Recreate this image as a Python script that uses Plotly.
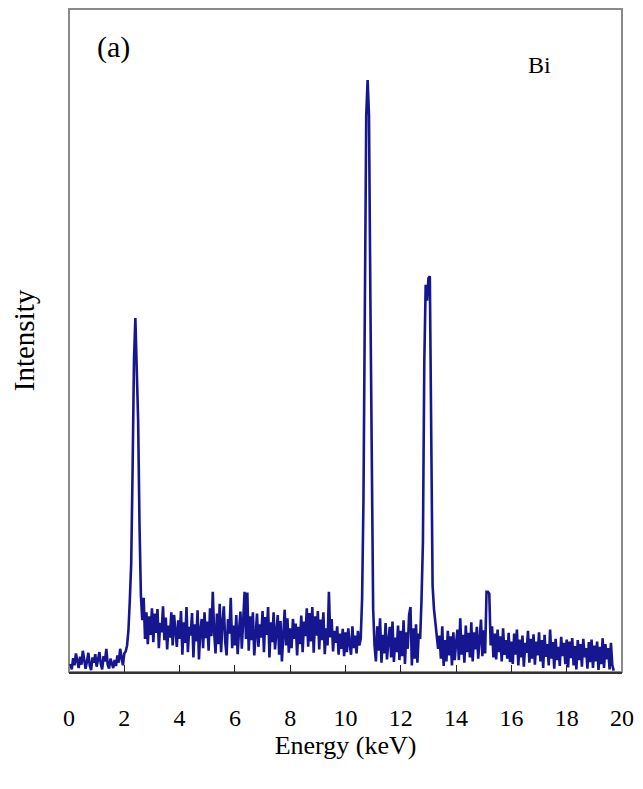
import numpy as np
import plotly.graph_objects as go

# EDS spectrum of Bi, channels every 0.05 keV starting at 0.05 keV
intensity = [
    # 0.05 - 1.00 keV
    1.2, 0.4, 2.1, 1.0, 2.8, 1.5, 0.6, 2.3, 1.1, 3.2, 1.8, 0.5, 1.6, 2.9, 1.0, 0.3, 2.2, 1.4, 2.7, 0.8,
    # 1.05 - 2.00 keV
    1.9, 3.0, 1.2, 0.4, 2.4, 1.6, 3.5, 1.1, 0.5, 2.0, 1.3, 0.6, 1.8, 0.9, 2.5, 1.4, 3.5, 2.2, 1.0, 2.8,
    # 2.05 - 3.00 keV (Bi M line)
    3.1, 4.0, 6.3, 10.9, 16.4, 30.5, 47.0, 53.4, 46.3, 38.0, 22.2, 11.6, 7.8, 11.2, 5.0, 9.0, 4.2, 8.4, 5.6, 9.6,
    # 3.05 - 4.00 keV
    4.5, 8.8, 5.9, 9.5, 3.6, 7.4, 6.0, 9.9, 4.8, 8.2, 3.4, 7.0, 5.2, 9.0, 4.0, 8.6, 6.2, 3.8, 7.8, 5.0,
    # 4.05 - 5.00 keV
    9.2, 2.6, 7.5, 4.4, 9.8, 3.0, 6.8, 5.5, 8.9, 2.2, 7.2, 4.6, 9.3, 1.9, 6.4, 8.0, 3.6, 9.0, 5.1, 7.6,
    # 5.05 - 6.00 keV
    3.2, 9.6, 5.4, 12.1, 6.0, 2.8, 8.8, 4.2, 10.3, 3.0, 7.4, 9.9, 4.6, 2.5, 8.0, 5.8, 11.2, 3.6, 7.0, 4.0,
    # 6.05 - 7.00 keV
    8.6, 2.7, 6.3, 9.1, 3.5, 7.8, 12.1, 5.0, 12.0, 3.2, 8.4, 4.8, 9.0, 2.5, 6.7, 8.8, 3.8, 7.2, 5.2, 9.2,
    # 7.05 - 8.00 keV
    3.0, 8.3, 5.6, 9.8, 2.2, 7.5, 4.5, 9.0, 3.4, 6.9, 8.6, 2.6, 7.7, 1.6, 5.3, 9.4, 4.0, 8.1, 2.9, 6.6,
    # 8.05 - 9.00 keV
    3.6, 8.0, 5.0, 7.3, 2.5, 6.8, 4.2, 8.5, 3.0, 7.6, 5.4, 9.6, 3.8, 8.9, 4.6, 9.8, 2.9, 8.4, 5.5, 9.2,
    # 9.05 - 10.00 keV
    3.4, 7.9, 4.8, 9.0, 2.7, 6.6, 4.0, 12.1, 5.2, 8.0, 3.1, 6.2, 4.4, 6.9, 2.6, 5.8, 3.5, 6.5, 2.4, 6.0,
    # 10.05 - 11.00 keV (Bi L-alpha)
    3.0, 6.6, 4.2, 2.6, 6.9, 3.6, 5.5, 2.8, 6.2, 4.0, 5.0, 11.0, 26.0, 64.0, 84.0, 89.3, 84.0, 56.0, 27.0, 9.5,
    # 11.05 - 12.00 keV
    4.0, 1.6, 6.9, 3.2, 8.1, 1.4, 5.6, 2.8, 7.4, 1.9, 4.6, 6.8, 2.2, 7.6, 1.5, 5.2, 3.0, 7.0, 1.8, 6.2,
    # 12.05 - 13.00 keV (Bi L-beta)
    2.4, 7.8, 1.2, 6.0, 3.5, 8.6, 9.8, 1.0, 6.6, 2.0, 7.2, 1.4, 5.8, 5.0, 11.0, 19.5, 46.8, 58.4, 56.0, 59.4,
    # 13.05 - 14.00 keV
    59.7, 29.0, 13.0, 9.5, 7.6, 5.8, 3.5, 5.5, 2.0, 6.9, 0.9, 4.8, 1.6, 6.2, 2.5, 5.4, 1.0, 6.0, 1.8, 4.4,
    # 14.05 - 15.00 keV
    6.4, 1.8, 8.1, 2.6, 5.6, 1.4, 7.0, 3.0, 5.9, 2.2, 7.5, 1.6, 6.0, 3.4, 6.8, 2.0, 5.2, 7.9, 2.4, 6.3,
    # 15.05 - 16.00 keV (Bi L-gamma)
    2.8, 12.1, 12.1, 11.8, 4.0, 6.9, 2.2, 5.8, 1.9, 6.4, 3.0, 5.4, 1.6, 6.6, 2.6, 4.8, 2.0, 5.9, 1.5, 4.6,
    # 16.05 - 17.00 keV
    1.2, 5.8, 2.6, 6.4, 1.0, 4.9, 2.2, 5.5, 0.8, 4.4, 2.9, 6.2, 1.4, 5.0, 2.0, 5.7, 1.1, 4.6, 2.5, 6.0,
    # 17.05 - 18.00 keV
    1.6, 4.8, 0.6, 5.6, 2.3, 4.2, 1.0, 6.4, 2.0, 4.5, 0.5, 5.0, 1.8, 3.8, 0.9, 5.3, 2.4, 4.4, 1.2, 4.9,
    # 18.05 - 19.00 keV
    0.7, 4.6, 2.1, 5.1, 1.0, 3.9, 0.4, 4.8, 1.8, 4.2, 0.8, 5.0, 2.2, 3.6, 0.5, 4.5, 1.5, 4.9, 0.6, 4.0,
    # 19.05 - 19.70 keV
    1.6, 4.6, 0.3, 3.8, 1.2, 5.1, 0.6, 4.2, 1.9, 3.6, 0.4, 4.4, 1.0, 0.2,
]
channel_width = 0.05
energy = np.round(np.arange(1, len(intensity) + 1) * channel_width, 2)

x_ticks = list(range(0, 21, 2))

fig = go.Figure()
fig.add_trace(go.Scatter(
    x=energy, y=intensity, mode="lines",
    line=dict(color="#161690", width=2.6),
    hoverinfo="skip", showlegend=False,
))

serif = "Liberation Serif, Times New Roman, serif"

# gray frame round the plotting area
fig.add_shape(type="rect", xref="paper", yref="paper", x0=0, y0=0, x1=1, y1=1,
              line=dict(color="#8a8a8a", width=2), layer="below")

fig.update_layout(
    width=643, height=789,
    margin=dict(l=69, r=18, t=9, b=117),
    paper_bgcolor="white", plot_bgcolor="white",
    font=dict(family=serif, color="black"),
    xaxis=dict(
        range=[0, 20], tickvals=x_ticks, ticktext=[str(v) for v in x_ticks],
        ticks="inside", ticklen=7, tickwidth=1, tickcolor="#222",
        showline=True, linecolor="#333", linewidth=1.5,
        showgrid=False, zeroline=False,
        tickfont=dict(size=24, family=serif), ticklabelstandoff=23,
        title=dict(text="Energy (keV)", font=dict(size=26, family=serif), standoff=2),
    ),
    yaxis=dict(
        range=[0, 100], showticklabels=False, ticks="",
        showline=False, showgrid=False, zeroline=False,
        title=dict(text="Intensity", font=dict(size=29, family=serif), standoff=24),
    ),
    annotations=[
        dict(text="(a)", xref="paper", yref="paper", x=0.047, y=0.943,
             xanchor="left", yanchor="middle", showarrow=False,
             font=dict(size=30, family=serif)),
        dict(text="Bi", xref="paper", yref="paper", x=0.826, y=0.915,
             xanchor="left", yanchor="middle", showarrow=False,
             font=dict(size=24, family=serif)),
    ],
)

fig.write_html("out.html")
